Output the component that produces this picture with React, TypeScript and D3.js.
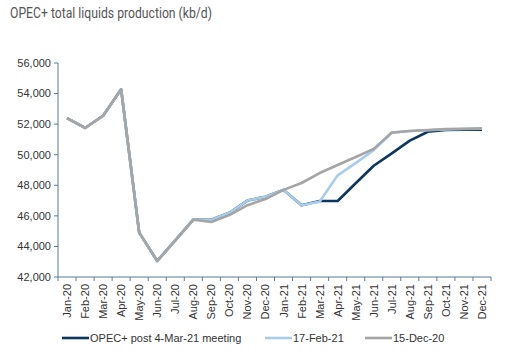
import React from "react";
import * as d3 from "d3";

// categories
const months = [
  "Jan-20", "Feb-20", "Mar-20", "Apr-20", "May-20", "Jun-20", "Jul-20", "Aug-20",
  "Sep-20", "Oct-20", "Nov-20", "Dec-20", "Jan-21", "Feb-21", "Mar-21", "Apr-21",
  "May-21", "Jun-21", "Jul-21", "Aug-21", "Sep-21", "Oct-21", "Nov-21", "Dec-21",
];

// series values (kb/d)
const dec20 = [
  52400, 51750, 52550, 54280, 44900, 43050, 44400, 45750, 45600, 46050, 46700, 47100,
  47700, 48150, 48800, 49330, 49850, 50380, 51450, 51550, 51620, 51680, 51700, 51720,
];
const feb21 = [
  52400, 51750, 52550, 54280, 44900, 43050, 44400, 45750, 45750, 46200, 47000, 47250,
  47700, 46700, 46930, 48650, 49450, 50300, 51430, 51550, 51600, 51650, 51680, 51700,
];
const mar21 = [
  52400, 51750, 52550, 54280, 44900, 43050, 44400, 45750, 45750, 46200, 47000, 47250,
  47700, 46700, 46970, 46970, 48130, 49280, 50090, 50920, 51500, 51620, 51630, 51640,
];

const yTicks = [42000, 44000, 46000, 48000, 50000, 52000, 54000, 56000];

const seriesNames = ["OPEC+ post 4-Mar-21 meeting", "17-Feb-21", "15-Dec-20"];
const colors = ["#0c365f", "#a8cdec", "#a5a5a5"];

export default function App() {
  const width = 523, height = 353;
  const x = d3.scaleBand<string>().domain(months).range([58, 491]);
  const y = d3.scaleLinear().domain([42000, 56000]).range([277, 63]);
  const fmt = d3.format(",");
  const axisColor = "#5d7a96";
  const font = "'Liberation Sans', Arial, sans-serif";

  const line = d3
    .line<number>()
    .x((_, i) => (x(months[i]) as number) + x.bandwidth() / 2)
    .y((d) => y(d));

  const series = [mar21, feb21, dec20];
  const legendX = [62, 265, 365];

  return (
    <svg width={width} height={height} style={{ position: "absolute", left: 0, top: 0, background: "#fff" }}>
      <text x={10} y={18} fontFamily="Roboto, sans-serif" fontSize={14} fill="#555" textLength={202} lengthAdjust="spacingAndGlyphs">
        OPEC+ total liquids production (kb/d)
      </text>

      {/* y axis */}
      <line x1={58} x2={58} y1={y(56000)} y2={y(42000)} stroke={axisColor} strokeWidth={1} />
      {yTicks.map((t) => (
        <g key={t}>
          <line x1={54} x2={58} y1={y(t)} y2={y(t)} stroke={axisColor} />
          <text x={51} y={y(t)} dy="0.35em" textAnchor="end" fontFamily={font} fontSize={11} fill="#333">
            {fmt(t)}
          </text>
        </g>
      ))}

      {/* x axis */}
      <line x1={58} x2={491} y1={277} y2={277} stroke={axisColor} />
      {months.map((m) => (
        <line key={"t" + m} x1={x(m) as number} x2={x(m) as number} y1={277} y2={281} stroke={axisColor} />
      ))}
      <line x1={491} x2={491} y1={277} y2={281} stroke={axisColor} />
      {months.map((m) => {
        const cx = (x(m) as number) + x.bandwidth() / 2;
        return (
          <text key={m} transform={`translate(${cx + 4},284) rotate(-90)`} textAnchor="end" fontFamily={font} fontSize={11} fill="#333">
            {m}
          </text>
        );
      })}

      {/* lines */}
      {series.map((s, i) => (
        <path key={i} d={line(s) as string} fill="none" stroke={colors[i]} strokeWidth={2.6} strokeLinejoin="round" />
      ))}

      {/* legend */}
      {seriesNames.map((n, i) => (
        <g key={n}>
          <line x1={legendX[i]} x2={legendX[i] + 27} y1={338} y2={338} stroke={colors[i]} strokeWidth={2.6} />
          <text x={legendX[i] + 28} y={338} dy="0.35em" fontFamily={font} fontSize={11} fill="#333">
            {n}
          </text>
        </g>
      ))}
    </svg>
  );
}
